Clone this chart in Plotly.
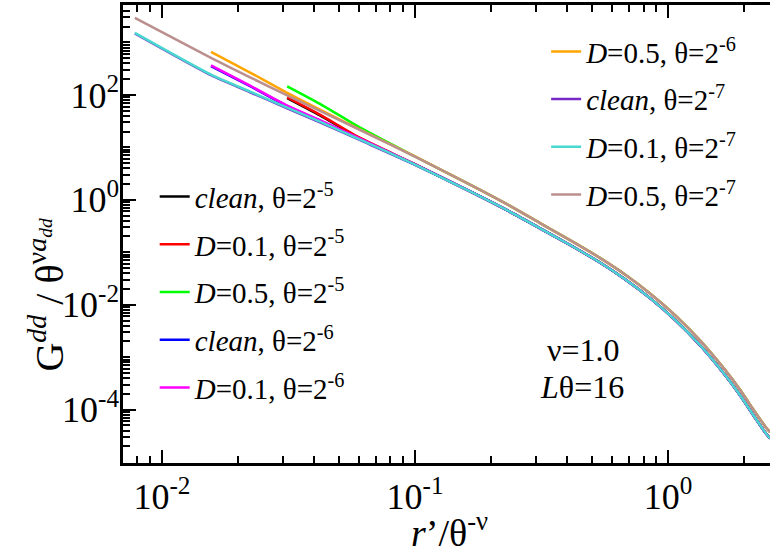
import plotly.graph_objects as go

# ---------------- data ----------------
x_tail = [0.165, 0.227, 0.312, 0.410, 0.538, 0.676, 0.849, 1.066, 1.338, 1.68,
          1.926, 2.207, 2.417, 2.53]
x_t5 = [0.03125, 0.0421, 0.0607, 0.1] + x_tail
x_t6 = [0.015625, 0.0223] + x_t5
x_t7 = [0.0078125] + x_t6

# common large-distance values (all curves of a group coincide there)
tail_low = [1.445, 0.6622, 0.2864, 0.1377, 0.06383, 0.03069, 0.01337, 0.005140,
            0.001687, 4.560e-4, 1.879e-4, 7.031e-5, 3.715e-5, 2.825e-5]
tail_high = [1.945, 0.8630, 0.3606, 0.1702, 0.07816, 0.03776, 0.01644, 0.006353,
             0.002099, 5.741e-4, 2.393e-4, 9.057e-5, 4.842e-5, 3.724e-5]

clean_t5 = [87.10, 40.74, 14.79, 4.742] + tail_low
d01_t5 = [89.95, 42.07, 15.14, 4.786] + tail_low
d05_t5 = [145.9, 67.61, 23.77, 6.699] + tail_high
clean_t6 = [354.8, 146.2, 60.95, 32.36, 14.39, 4.710] + tail_low
d01_t6 = [367.3, 150.3, 62.37, 33.11, 14.62, 4.732] + tail_low
d05_t6 = [660.7, 266.7, 109.6, 52.48, 21.88, 6.699] + tail_high
clean_t7 = [1483, 237.2, 112.5, 55.73, 30.07, 13.68, 4.655] + tail_low
d01_t7 = [1524, 243.8, 115.6, 57.28, 30.90, 14.06, 4.688] + tail_low
d05_t7 = [2951, 508.2, 216.3, 97.72, 49.77, 21.43, 6.637] + tail_high

series_names = [
    "<i>clean</i>, θ=2<sup>-5</sup>",
    "<i>D</i>=0.1, θ=2<sup>-5</sup>",
    "<i>D</i>=0.5, θ=2<sup>-5</sup>",
    "<i>clean</i>, θ=2<sup>-6</sup>",
    "<i>D</i>=0.1, θ=2<sup>-6</sup>",
    "<i>D</i>=0.5, θ=2<sup>-6</sup>",
    "<i>clean</i>, θ=2<sup>-7</sup>",
    "<i>D</i>=0.1, θ=2<sup>-7</sup>",
    "<i>D</i>=0.5, θ=2<sup>-7</sup>",
]
series_x = [x_t5, x_t5, x_t5, x_t6, x_t6, x_t6, x_t7, x_t7, x_t7]
series_y = [clean_t5, d01_t5, d05_t5, clean_t6, d01_t6, d05_t6, clean_t7, d01_t7, d05_t7]
series_colors = ["#000000", "#ff0000", "#00ff00", "#0000ff", "#ff00ff",
                 "#ffa500", "#7828c8", "#48d8d0", "#bc8f8f"]
series_legend = ["legend"] * 5 + ["legend2"] * 4

x_major = [0.01, 0.1, 1]
x_major_text = ["10<sup>-2</sup>", "10<sup>-1</sup>", "10<sup>0</sup>"]
y_major = [1e-4, 1e-2, 1, 1e2]
y_major_text = ["10<sup>-4</sup>", "10<sup>-2</sup>", "10<sup>0</sup>", "10<sup>2</sup>"]

# ---------------- figure ----------------
FONT = "Liberation Serif"
fig = go.Figure()
for i in range(len(series_names)):
    fig.add_trace(go.Scatter(
        x=series_x[i], y=series_y[i], mode="lines", name=series_names[i],
        line=dict(color=series_colors[i], width=2.5, shape="spline", smoothing=0.6),
        legend=series_legend[i], legendgroup="g%d" % i,
    ))

x_minor = [k * 10.0 ** n for n in (-3, -2, -1, 0) for k in range(2, 10)]
y_minor = [k * 10.0 ** n for n in range(-6, 4) for k in range(1, 10)
           if not (k == 1 and n % 2 == 0)]

tickfont = dict(family=FONT, size=36, color="black")
legfont = dict(family=FONT, size=29, color="black")
fig.update_layout(
    width=770, height=558,
    margin=dict(l=123, r=0, t=5, b=95),
    paper_bgcolor="white", plot_bgcolor="white",
    font=dict(family=FONT, color="black"),
    xaxis=dict(type="log", range=[-2.154, 0.403], showline=True, linewidth=2.5,
               linecolor="black", mirror="allticks", ticks="inside", ticklen=13,
               tickwidth=2, tickcolor="black", tickmode="array", tickvals=x_major,
               ticktext=x_major_text, tickfont=tickfont, showgrid=False, zeroline=False,
               minor=dict(ticks="inside", ticklen=7, tickwidth=2, tickcolor="black",
                          tickmode="array", tickvals=x_minor, showgrid=False)),
    yaxis=dict(type="log", range=[-5.017, 3.714], showline=True, linewidth=2.5,
               linecolor="black", mirror=False, ticks="inside", ticklen=13,
               tickwidth=2, tickcolor="black", tickmode="array", tickvals=y_major,
               ticktext=y_major_text, tickfont=tickfont, showgrid=False, zeroline=False,
               ticklabelstandoff=-6,
               minor=dict(ticks="inside", ticklen=7, tickwidth=2, tickcolor="black",
                          tickmode="array", tickvals=y_minor, showgrid=False)),
    yaxis2=dict(type="log", range=[-5.017, 3.714], overlaying="y", side="right",
                anchor="x", showline=False, ticks="inside", ticklen=5, tickwidth=2,
                tickcolor="black", tickmode="array", tickvals=y_major,
                showticklabels=False, showgrid=False, zeroline=False),
    legend=dict(x=0.049, y=0.637, xanchor="left", yanchor="top",
                bgcolor="rgba(0,0,0,0)", borderwidth=0, traceorder="grouped",
                tracegroupgap=7, font=legfont),
    legend2=dict(x=0.654, y=0.954, xanchor="left", yanchor="top",
                 bgcolor="rgba(0,0,0,0)", borderwidth=0, traceorder="grouped",
                 tracegroupgap=7, font=legfont),
    showlegend=True,
)

fig.add_annotation(text="G<sup><i>dd</i></sup> / θ<sup>ν<i>a<sub>dd</sub></i></sup>",
                   xref="paper", yref="paper", x=-0.118, y=0.367, textangle=-90,
                   showarrow=False, xanchor="center", yanchor="middle",
                   font=dict(family=FONT, size=40, color="black"))
fig.add_annotation(text="<i>r</i>’/θ<sup>-ν</sup>",
                   xref="paper", yref="paper", x=0.504, y=-0.146,
                   showarrow=False, xanchor="center", yanchor="middle",
                   font=dict(family=FONT, size=38, color="black"))
fig.add_annotation(text="ν=1.0", xref="paper", yref="paper",
                   x=(583 - 123) / 647, y=(463 - 350) / 458, showarrow=False,
                   xanchor="center", yanchor="middle",
                   font=dict(family=FONT, size=32, color="black"))
fig.add_annotation(text="<i>L</i>θ=16", xref="paper", yref="paper",
                   x=(582 - 123) / 647, y=(463 - 387) / 458, showarrow=False,
                   xanchor="center", yanchor="middle",
                   font=dict(family=FONT, size=32, color="black"))

fig.write_html("out.html")
